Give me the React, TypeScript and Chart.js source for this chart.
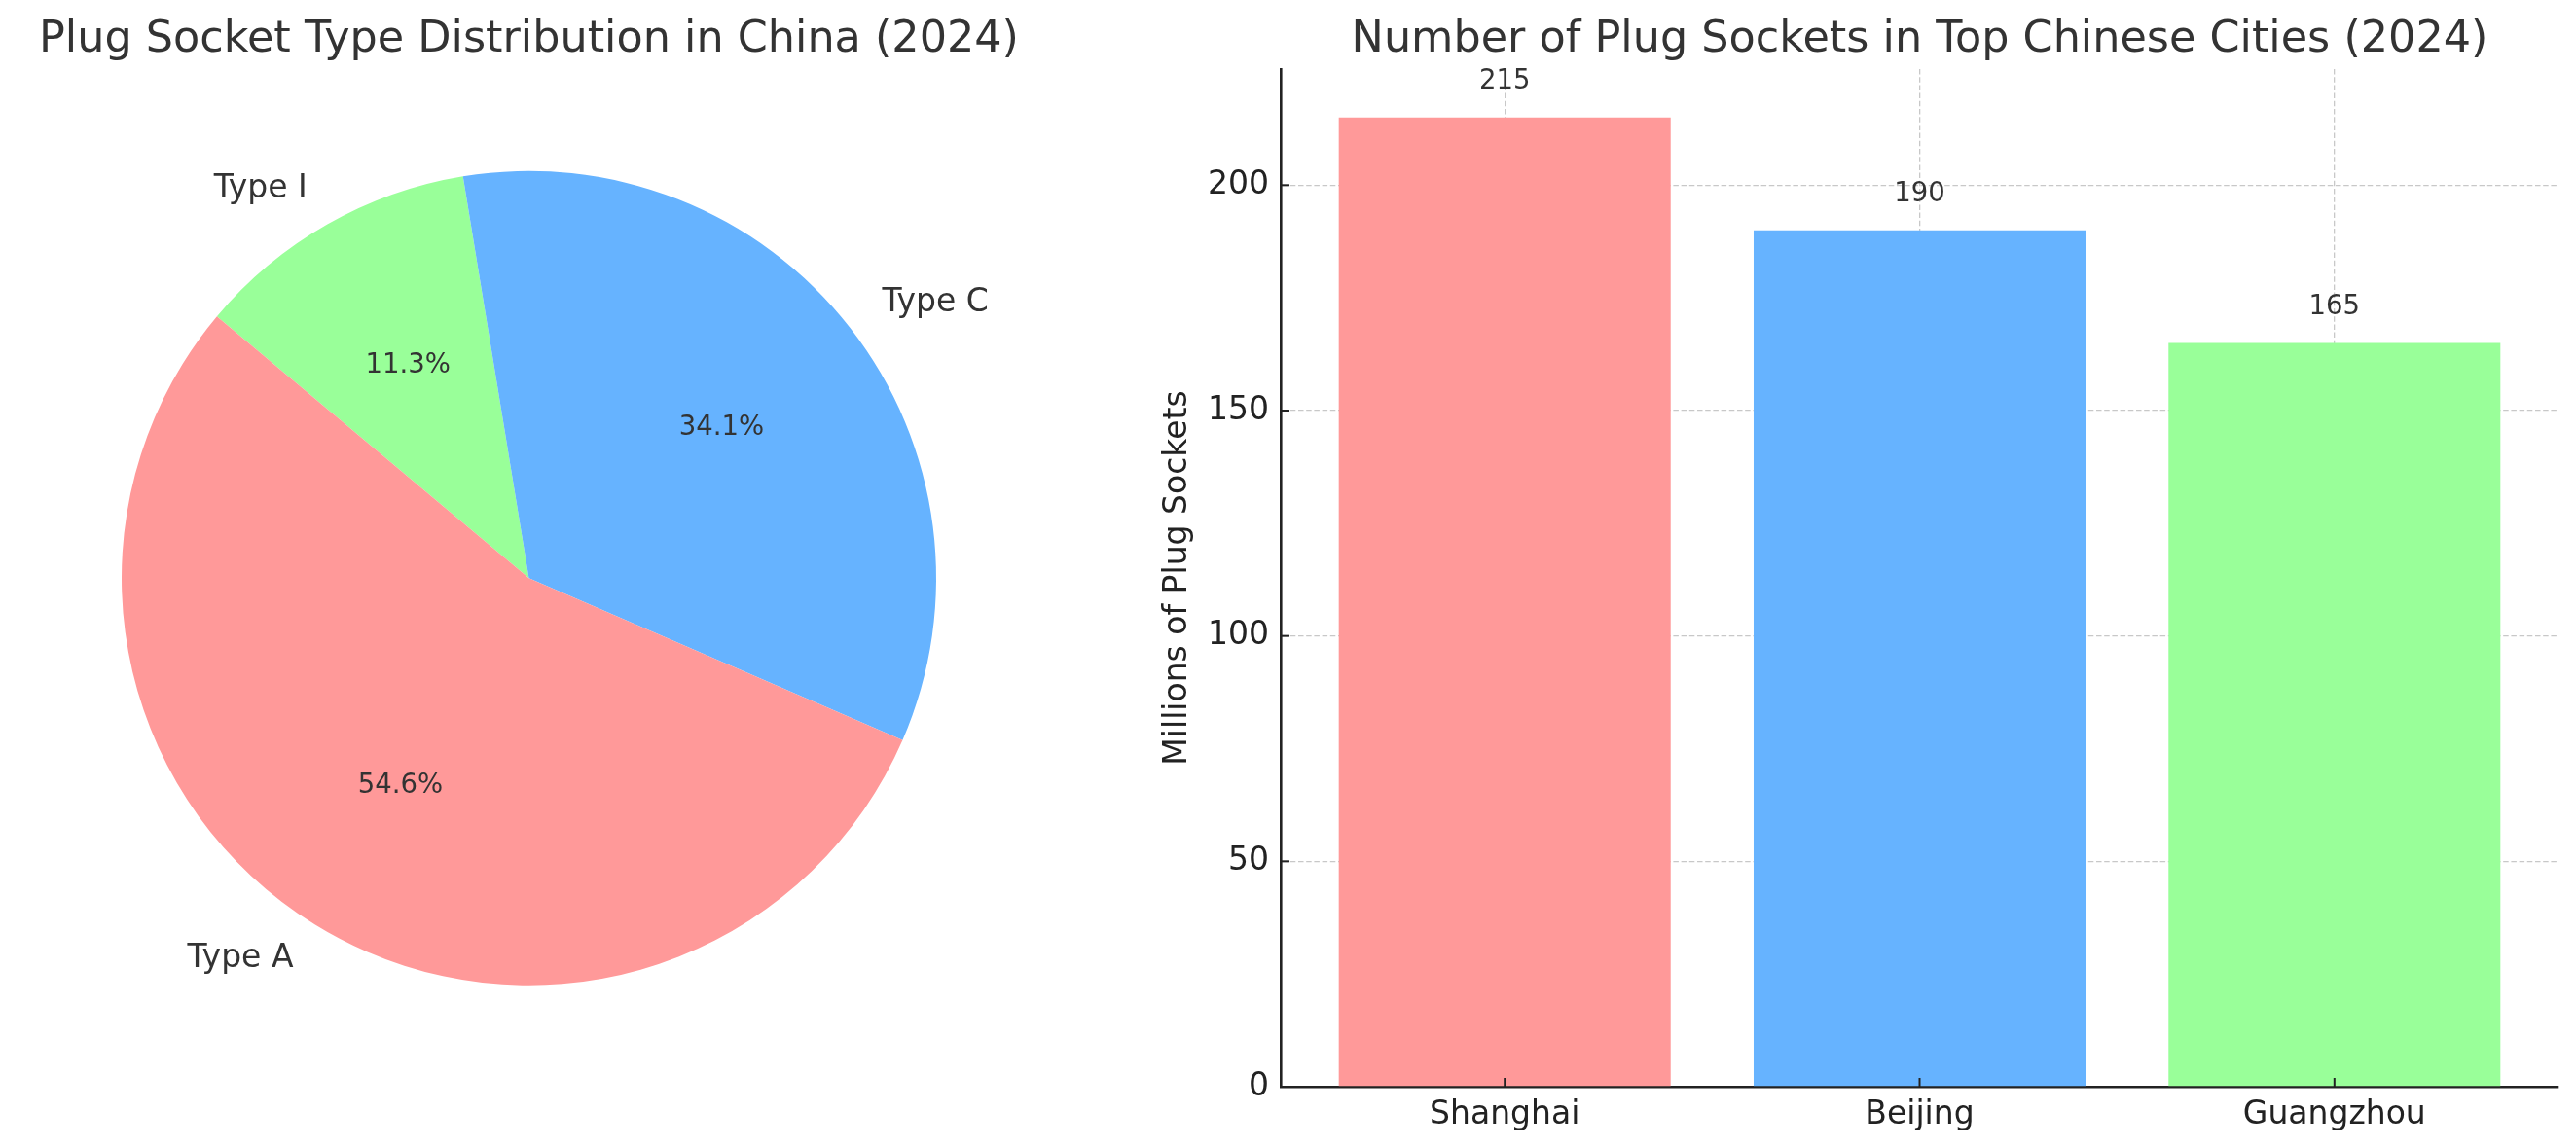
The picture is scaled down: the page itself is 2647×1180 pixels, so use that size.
import React, { useEffect, useRef } from 'react';
import { Chart, registerables } from 'chart.js';

Chart.register(...registerables);

// ---- data ----
const SOCKET_TYPES = ['Type A', 'Type C', 'Type I'];
const SOCKET_SHARES = [54.6, 34.1, 11.3];
const SOCKET_COLORS = ['#ff9999', '#66b3ff', '#99ff99'];

const CITIES = ['Shanghai', 'Beijing', 'Guangzhou'];
const CITY_SOCKETS = [215, 190, 165];
const CITY_COLORS = ['#ff9999', '#66b3ff', '#99ff99'];
const Y_TICKS = [0, 50, 100, 150, 200];

const PIE_TITLE = 'Plug Socket Type Distribution in China (2024)';
const BAR_TITLE = 'Number of Plug Sockets in Top Chinese Cities (2024)';
const Y_LABEL = 'Millions of Plug Sockets';

const FONT = "'DejaVu Sans', sans-serif";
const GRID_COLOR = 'rgba(176,176,176,0.7)';

const makeTitlePlugin = (text: string) => ({
  id: 'customTitle',
  afterDraw(chart: any) {
    const { ctx, chartArea } = chart;
    ctx.save();
    ctx.font = `44.5px ${FONT}`;
    ctx.fillStyle = '#333333';
    ctx.textAlign = 'center';
    ctx.textBaseline = 'alphabetic';
    ctx.fillText(text, (chartArea.left + chartArea.right) / 2, 53);
    ctx.restore();
  },
});

const pieLabelPlugin = {
  id: 'pieLabels',
  afterDatasetsDraw(chart: any) {
    const { ctx } = chart;
    const meta = chart.getDatasetMeta(0);
    const values: number[] = chart.data.datasets[0].data;
    const total = values.reduce((a, b) => a + b, 0);
    meta.data.forEach((arc: any, i: number) => {
      const { x, y, startAngle, endAngle, outerRadius } = arc.getProps(
        ['x', 'y', 'startAngle', 'endAngle', 'outerRadius'],
        true
      );
      const mid = (startAngle + endAngle) / 2;
      const c = Math.cos(mid);
      const s = Math.sin(mid);
      ctx.save();
      ctx.fillStyle = '#333333';
      ctx.textBaseline = 'middle';
      ctx.font = `33px ${FONT}`;
      ctx.textAlign = c >= 0 ? 'left' : 'right';
      ctx.fillText(chart.data.labels[i], x + c * 1.1 * outerRadius, y + s * 1.1 * outerRadius);
      ctx.font = `27.5px ${FONT}`;
      ctx.textAlign = 'center';
      ctx.fillText(
        ((values[i] / total) * 100).toFixed(1) + '%',
        x + c * 0.6 * outerRadius,
        y + s * 0.6 * outerRadius
      );
      ctx.restore();
    });
  },
};

const barExtrasPlugin = {
  id: 'barExtras',
  afterDraw(chart: any) {
    const { ctx, chartArea, scales } = chart;
    const xs = scales.x;
    const ys = scales.y;
    ctx.save();
    // inward tick marks
    ctx.strokeStyle = '#222222';
    ctx.lineWidth = 2;
    ys.ticks.forEach((t: any) => {
      const py = ys.getPixelForValue(t.value);
      ctx.beginPath();
      ctx.moveTo(chartArea.left, py);
      ctx.lineTo(chartArea.left + 9, py);
      ctx.stroke();
    });
    xs.ticks.forEach((t: any) => {
      const px = xs.getPixelForValue(t.value);
      ctx.beginPath();
      ctx.moveTo(px, chartArea.bottom);
      ctx.lineTo(px, chartArea.bottom - 9);
      ctx.stroke();
    });
    // value labels
    const meta = chart.getDatasetMeta(0);
    ctx.fillStyle = '#333333';
    ctx.font = `27.5px ${FONT}`;
    ctx.textAlign = 'center';
    ctx.textBaseline = 'alphabetic';
    meta.data.forEach((bar: any, i: number) => {
      const v = CITY_SOCKETS[i];
      ctx.fillText(String(v), bar.x, ys.getPixelForValue(v + 5) - 6.5);
    });
    // y axis title
    ctx.fillStyle = '#222222';
    ctx.font = `33px ${FONT}`;
    ctx.textBaseline = 'middle';
    ctx.translate(60, (chartArea.top + chartArea.bottom) / 2);
    ctx.rotate(-Math.PI / 2);
    ctx.fillText(Y_LABEL, 0, 0);
    ctx.restore();
  },
};

export default function App() {
  const pieRef = useRef<HTMLCanvasElement>(null);
  const barRef = useRef<HTMLCanvasElement>(null);

  useEffect(() => {
    Chart.defaults.font.family = FONT;
    const order = [2, 1, 0]; // draw clockwise: Type I, Type C, Type A
    const pie = new Chart(pieRef.current!, {
      type: 'pie',
      data: {
        labels: order.map((i) => SOCKET_TYPES[i]),
        datasets: [
          {
            data: order.map((i) => SOCKET_SHARES[i]),
            backgroundColor: order.map((i) => SOCKET_COLORS[i]),
            borderWidth: 0,
            hoverOffset: 0,
          },
        ],
      },
      options: {
        animation: false,
        responsive: false,
        devicePixelRatio: 1,
        events: [],
        rotation: -50,
        layout: { padding: { left: 125, right: 125, top: 175.5, bottom: 167 } },
        plugins: { legend: { display: false }, tooltip: { enabled: false }, title: { display: false } },
      },
      plugins: [makeTitlePlugin(PIE_TITLE), pieLabelPlugin],
    } as any);

    const bar = new Chart(barRef.current!, {
      type: 'bar',
      data: {
        datasets: [
          {
            data: CITY_SOCKETS.map((v, i) => ({ x: i, y: v })),
            backgroundColor: CITY_COLORS,
            borderWidth: 0,
            barPercentage: 0.8,
            categoryPercentage: 1,
          },
        ],
      },
      options: {
        animation: false,
        responsive: false,
        devicePixelRatio: 1,
        events: [],
        layout: { padding: { left: 0, right: 18, top: 71, bottom: 0 } },
        plugins: { legend: { display: false }, tooltip: { enabled: false }, title: { display: false } },
        scales: {
          x: {
            type: 'linear',
            min: -0.54,
            max: 2.54,
            offset: false,
            z: 1,
            afterBuildTicks: (s: any) => {
              s.ticks = CITIES.map((_, i) => ({ value: i }));
            },
            afterFit: (s: any) => {
              s.height = 63;
            },
            ticks: {
              callback: (v: any) => CITIES[v] ?? '',
              font: { size: 33, family: FONT },
              color: '#222222',
              padding: 10,
              maxRotation: 0,
              autoSkip: false,
            },
            grid: { color: GRID_COLOR, lineWidth: 1.3, drawTicks: false, offset: false },
            border: { display: true, color: '#222222', width: 2.6, dash: [5.5, 2.7] },
          },
          y: {
            type: 'linear',
            min: 0,
            max: 225.75,
            z: 1,
            afterBuildTicks: (s: any) => {
              s.ticks = Y_TICKS.map((v) => ({ value: v }));
            },
            afterFit: (s: any) => {
              s.width = 166;
            },
            ticks: {
              font: { size: 33, family: FONT },
              color: '#222222',
              padding: 12,
            },
            grid: {
              color: (ctx: any) => (ctx.tick && ctx.tick.value === 0 ? 'rgba(0,0,0,0)' : GRID_COLOR),
              lineWidth: 1.3,
              drawTicks: false,
            },
            border: { display: true, color: '#222222', width: 2.6, dash: [5.5, 2.7] },
          },
        },
      },
      plugins: [makeTitlePlugin(BAR_TITLE), barExtrasPlugin],
    } as any);

    return () => {
      pie.destroy();
      bar.destroy();
    };
  }, []);

  return (
    <div style={{ position: 'absolute', left: 0, top: 0, width: 2647, height: 1180, background: '#ffffff' }}>
      <canvas
        ref={pieRef}
        width={1087}
        height={1180}
        style={{ position: 'absolute', left: 0, top: 0, width: 1087, height: 1180 }}
      />
      <canvas
        ref={barRef}
        width={1497}
        height={1180}
        style={{ position: 'absolute', left: 1150, top: 0, width: 1497, height: 1180 }}
      />
    </div>
  );
}
